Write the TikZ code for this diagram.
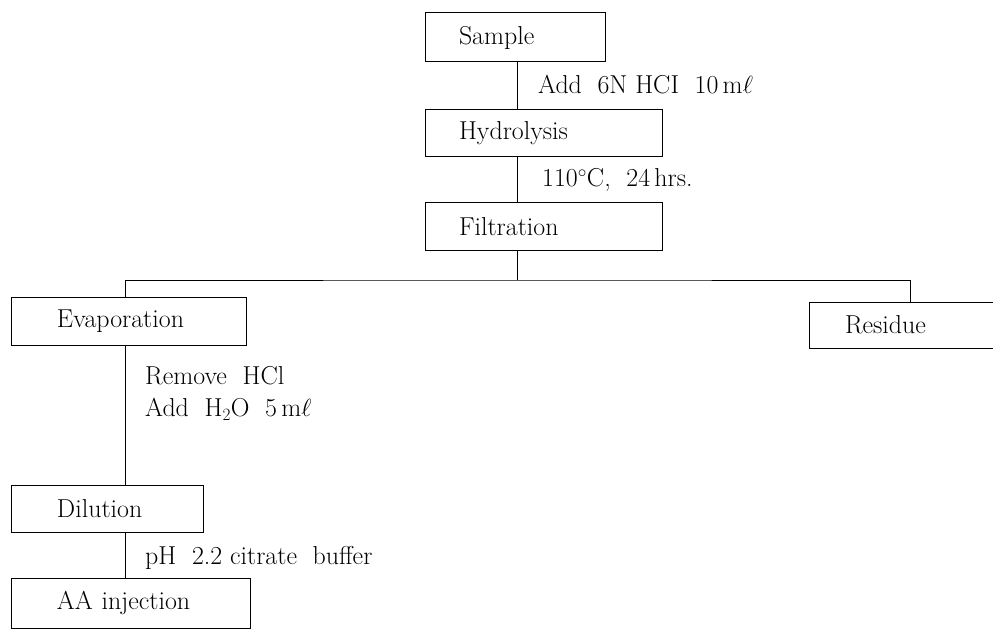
\documentclass[tikz,border=0pt]{standalone}
\usepackage{fontspec}
\newcommand\diagfont{\fontsize{26}{32}\selectfont}
\begin{document}
\begin{tikzpicture}[x=1bp,y=-1bp,
  box/.style={draw, line width=1bp, align=left, font=\diagfont},
  lbl/.style={anchor=west, inner sep=0pt, font=\diagfont, align=left},
  conn/.style={line width=1bp}]
\useasboundingbox (0,0) rectangle (993,629);
\clip (0,0) rectangle (993,629);
% boxes
\node[box, text width=112bp, inner xsep=34bp, minimum height=49bp] (sample) at (515,37.5) {Sample};
\node[box, text width=169bp, inner xsep=34bp, minimum height=47bp] (hydro) at (543.5,133.5) {Hydrolysis};
\node[box, text width=169bp, inner xsep=34bp, minimum height=47bp] (filt) at (543.5,226.5) {Filtration};
\node[box, text width=144bp, inner xsep=45bp, minimum height=48bp] (evap) at (129,321) {Evaporation};
\node[box, text width=168bp, inner xsep=36bp, minimum height=46bp] (res) at (929,325) {Residue};
\node[box, text width=101bp, inner xsep=45bp, minimum height=47bp] (dil) at (107.5,508.5) {Dilution};
\node[box, text width=148bp, inner xsep=45bp, minimum height=50bp] (aa) at (131,603) {AA injection};
% coordinates
\coordinate (c1) at (517,0);
\coordinate (c2) at (125,0);
\coordinate (c3) at (910,0);
\coordinate (br) at (517,280);
% connectors
\draw[conn] (sample.south -| c1) -- (hydro.north -| c1);
\draw[conn] (hydro.south -| c1) -- (filt.north -| c1);
\draw[conn] (filt.south -| c1) -- (br);
\draw[conn] (evap.north -| c2) |- (br) -| (res.north -| c3);
\draw[conn] (evap.south -| c2) -- (dil.north -| c2);
\draw[conn] (dil.south -| c2) -- (aa.north -| c2);
% labels
\node[lbl] (l1) at (538,85) {Add\ \ 6N\ HCI\ \ 10\,m$\ell$};
\node[lbl] (l2) at (542,180) {110$^{\circ}$C,\ \ 24\,hrs.};
\node[lbl] (l3) at (145,376) {Remove\ \ HCl};
\node[lbl] (l4) at (145,409) {Add\ \ H$_2$O\ \ 5\,m$\ell$};
\node[lbl] (l5) at (145,558) {pH\ \ 2.2 citrate\ \ buffer};
\end{tikzpicture}
\end{document}
